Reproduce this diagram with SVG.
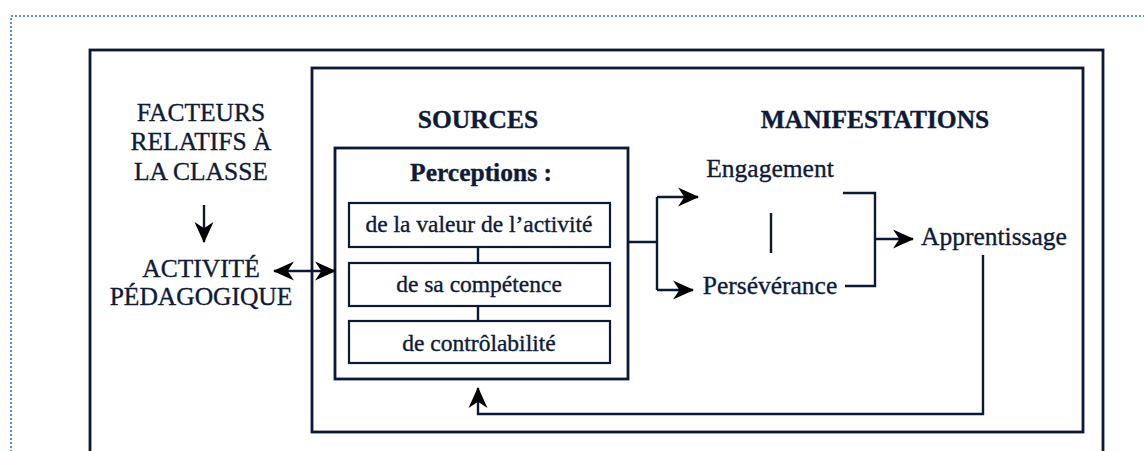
<svg xmlns="http://www.w3.org/2000/svg" width="1144" height="451" viewBox="0 0 1144 451">
<defs>
<style>
.t{font-family:"Liberation Serif","Times New Roman",serif;fill:#0d1a38;stroke:#0d1a38;stroke-width:0.35;text-anchor:middle;font-size:25.5px}
.b{font-weight:bold}
.s{font-size:23.5px}
.box{fill:none;stroke:#0b1836;stroke-width:2.8}
.sub{fill:#fff;stroke:#0b1836;stroke-width:2.2}
.ln{fill:none;stroke:#0b1836;stroke-width:2.4}
</style>
<marker id="ah" viewBox="0 0 20 20" markerWidth="21" markerHeight="21" refX="19" refY="10" orient="auto-start-reverse" markerUnits="userSpaceOnUse">
<path d="M0,1 L20,10 L0,19 L6,10 z" fill="#000"/>
</marker>
</defs>
<rect x="0" y="0" width="1144" height="451" fill="#fff"/>
<rect x="11" y="16" width="1150" height="450" fill="none" stroke="#5b8ee6" stroke-width="2" stroke-dasharray="2,2"/>
<g id="outer"><rect class="box" x="90" y="50" width="1013" height="420"/></g>
<g id="inner"><rect class="box" x="312" y="68" width="771" height="364"/></g>
<g id="facteurs">
<text class="t" x="201" y="121">FACTEURS</text>
<text class="t" x="201" y="150">RELATIFS À</text>
<text class="t" x="201" y="180">LA CLASSE</text>
</g>
<g id="activite">
<text class="t" x="201" y="277">ACTIVITÉ</text>
<text class="t" x="201" y="305">PÉDAGOGIQUE</text>
</g>
<g id="headings">
<text class="t b" x="478" y="128">SOURCES</text>
<text class="t b" x="875" y="128">MANIFESTATIONS</text>
</g>
<g id="perceptions">
<rect class="box" x="335" y="148" width="293" height="231" stroke-width="2.4"/>
<text class="t b" x="481" y="181">Perceptions :</text>
</g>
<g id="valeur">
<rect class="sub" x="349" y="203" width="261" height="44"/>
<text class="t s" x="479" y="232">de la valeur de l’activité</text>
</g>
<g id="competence">
<rect class="sub" x="349" y="263" width="261" height="43"/>
<text class="t s" x="479" y="292">de sa compétence</text>
</g>
<g id="controlabilite">
<rect class="sub" x="349" y="321" width="261" height="42"/>
<text class="t s" x="479" y="351">de contrôlabilité</text>
</g>
<g id="engagement"><text class="t" x="770" y="177">Engagement</text></g>
<g id="perseverance"><text class="t" x="770" y="294">Persévérance</text></g>
<g id="apprentissage"><text class="t" x="994" y="245">Apprentissage</text></g>
<g id="connectors">
<path class="ln" d="M204,205 V242" marker-end="url(#ah)"/>
<path class="ln" d="M274,271 H335" marker-start="url(#ah)" marker-end="url(#ah)"/>
<path class="ln" d="M478,247 V263 M478,306 V321"/>
<path class="ln" d="M628,242 H657 M657,197 V290"/>
<path class="ln" d="M657,197 H698" marker-end="url(#ah)"/>
<path class="ln" d="M657,290 H693" marker-end="url(#ah)"/>
<path class="ln" d="M771,213 V253" stroke="#1a4fa0" stroke-width="1.6"/>
<path class="ln" d="M843,193 H875 V286 H845"/>
<path class="ln" d="M875,239 H913" marker-end="url(#ah)"/>
<path class="ln" d="M983,255 V414 H478 V388" marker-end="url(#ah)"/>
</g>
</svg>
